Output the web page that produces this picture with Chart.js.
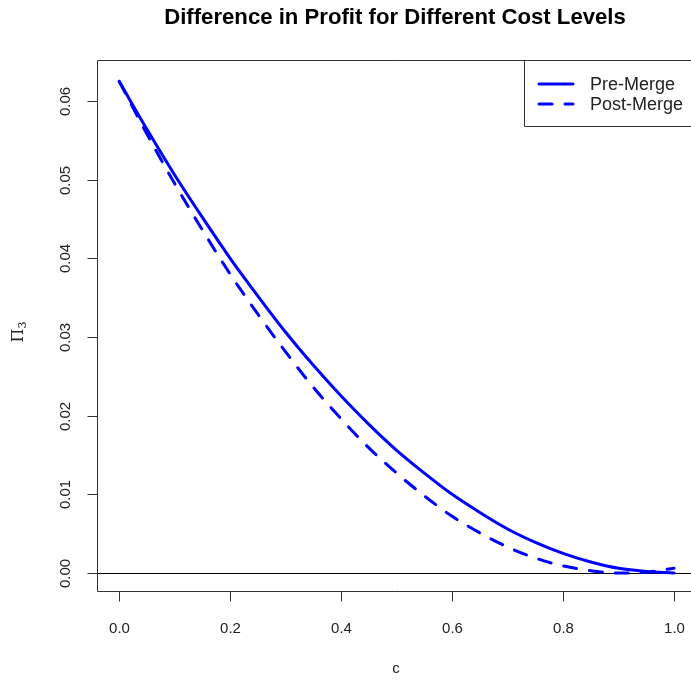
<!DOCTYPE html>
<html>
<head>
<meta charset="utf-8">
<script src="https://cdn.jsdelivr.net/npm/chart.js@4.4.1/dist/chart.umd.min.js"></script>
<style>
html, body { margin: 0; padding: 0; background: #fff; overflow: hidden; }
canvas { display: block; }
</style>
</head>
<body>
<canvas id="profitChart" width="691" height="682"></canvas>
<script>
// valores
const costLevels = [0, 0.05, 0.1, 0.15, 0.2, 0.25, 0.3, 0.35, 0.4, 0.45, 0.5,
                    0.55, 0.6, 0.65, 0.7, 0.75, 0.8, 0.85, 0.9, 0.95, 1.0];
const preMerge  = [0.0625, 0.0564, 0.0506, 0.0452, 0.0400, 0.0352, 0.0306, 0.0264, 0.0225, 0.0189, 0.0156,
                   0.0127, 0.0100, 0.0077, 0.0056, 0.0039, 0.0025, 0.0014, 0.0006, 0.0002, 0.0000];
const postMerge = [0.0625, 0.0558, 0.0495, 0.0436, 0.0380, 0.0329, 0.0281, 0.0236, 0.0196, 0.0159, 0.0127,
                   0.0098, 0.0072, 0.0051, 0.0033, 0.0019, 0.0009, 0.0003, 0.0000, 0.0001, 0.0006];
const seriesNames = ['Pre-Merge', 'Post-Merge'];
const xTicks = [0, 0.2, 0.4, 0.6, 0.8, 1.0];
const yTicks = [0, 0.01, 0.02, 0.03, 0.04, 0.05, 0.06];

const BLUE = '#0000ff';
const DASH = [13, 13];

function toPoints(values) {
    return costLevels.map((c, i) => ({ x: c, y: values[i] }));
}

// ejes y marco al estilo de R
const rFrame = {
    id: 'rFrame',
    beforeDatasetsDraw(chart) {
        const { ctx, chartArea: a, scales: { y } } = chart;
        const y0 = Math.round(y.getPixelForValue(0)) + 0.5;
        ctx.save();
        ctx.strokeStyle = '#000';
        ctx.lineWidth = 1;
        ctx.beginPath();
        ctx.moveTo(a.left, y0);
        ctx.lineTo(a.right, y0);
        ctx.stroke();
        ctx.restore();
    },
    afterDraw(chart) {
        const { ctx, chartArea: a, scales: { x, y } } = chart;
        ctx.save();
        ctx.strokeStyle = '#333';
        ctx.lineWidth = 1;

        // marco
        const L = a.left + 0.5, T = a.top + 0.5, B = a.bottom - 0.5;
        ctx.beginPath();
        ctx.moveTo(a.right + 5, T);
        ctx.lineTo(L, T);
        ctx.lineTo(L, B);
        ctx.lineTo(a.right + 5, B);
        ctx.stroke();

        // eje x
        ctx.fillStyle = '#222';
        ctx.font = '15px "Liberation Sans", Arial, sans-serif';
        ctx.textAlign = 'center';
        ctx.textBaseline = 'middle';
        xTicks.forEach(v => {
            const px = Math.round(x.getPixelForValue(v)) + 0.5;
            ctx.beginPath();
            ctx.moveTo(px, B);
            ctx.lineTo(px, B + 10);
            ctx.stroke();
            ctx.fillText(v.toFixed(1), px, 629);
        });

        // eje y
        yTicks.forEach(v => {
            const py = Math.round(y.getPixelForValue(v)) + 0.5;
            ctx.beginPath();
            ctx.moveTo(L, py);
            ctx.lineTo(L - 10, py);
            ctx.stroke();
            ctx.save();
            ctx.translate(66, py);
            ctx.rotate(-Math.PI / 2);
            ctx.fillText(v.toFixed(2), 0, 0);
            ctx.restore();
        });

        // titulo
        const title = 'Difference in Profit for Different Cost Levels';
        ctx.font = 'bold 17px "Liberation Sans", Arial, sans-serif';
        const tw = ctx.measureText(title).width;
        const size = 17 * 462 / tw;
        ctx.font = 'bold ' + size.toFixed(2) + 'px "Liberation Sans", Arial, sans-serif';
        ctx.fillStyle = '#000';
        ctx.fillText(title, 395, 18);

        // titulo eje x
        ctx.font = '15px "Liberation Sans", Arial, sans-serif';
        ctx.fillStyle = '#222';
        ctx.fillText('c', 396, 669);

        // titulo eje y (Pi sub 3)
        ctx.save();
        ctx.translate(23, 332);
        ctx.rotate(-Math.PI / 2);
        ctx.textAlign = 'left';
        ctx.textBaseline = 'alphabetic';
        ctx.font = '16px "DejaVu Serif", "Liberation Serif", serif';
        const w1 = ctx.measureText('Π').width;
        ctx.font = '11px "DejaVu Serif", "Liberation Serif", serif';
        const w2 = ctx.measureText('3').width;
        ctx.font = '16px "DejaVu Serif", "Liberation Serif", serif';
        ctx.fillText('Π', -(w1 + w2) / 2, 0);
        ctx.font = '11px "DejaVu Serif", "Liberation Serif", serif';
        ctx.fillText('3', -(w1 + w2) / 2 + w1, 3);
        ctx.restore();

        // leyenda
        ctx.strokeStyle = '#333';
        ctx.beginPath();
        ctx.moveTo(a.right + 5, 60.5);
        ctx.lineTo(524.5, 60.5);
        ctx.lineTo(524.5, 126.5);
        ctx.lineTo(a.right + 5, 126.5);
        ctx.stroke();
        const rows = [84, 104];
        ctx.lineWidth = 3;
        ctx.strokeStyle = BLUE;
        ctx.lineCap = 'round';
        rows.forEach((ry, i) => {
            ctx.setLineDash(i === 0 ? [] : DASH);
            ctx.beginPath();
            ctx.moveTo(539, ry);
            ctx.lineTo(573, ry);
            ctx.stroke();
        });
        ctx.setLineDash([]);
        ctx.font = '18px "Liberation Sans", Arial, sans-serif';
        ctx.fillStyle = '#222';
        ctx.textAlign = 'left';
        ctx.textBaseline = 'middle';
        rows.forEach((ry, i) => ctx.fillText(seriesNames[i], 590, ry + 1));
        ctx.restore();
    }
};

window.addEventListener('load', function() {
    const ctx = document.getElementById('profitChart').getContext('2d');
    new Chart(ctx, {
        type: 'line',
        data: {
            datasets: [
                {
                    label: seriesNames[0],
                    data: toPoints(preMerge),
                    borderColor: BLUE,
                    borderWidth: 3,
                    pointRadius: 0,
                    cubicInterpolationMode: 'monotone',
                    borderCapStyle: 'round',
                    fill: false
                },
                {
                    label: seriesNames[1],
                    data: toPoints(postMerge),
                    borderColor: BLUE,
                    borderWidth: 3,
                    borderDash: DASH,
                    pointRadius: 0,
                    cubicInterpolationMode: 'monotone',
                    borderCapStyle: 'round',
                    fill: false
                }
            ]
        },
        options: {
            responsive: false,
            animation: false,
            devicePixelRatio: 1,
            layout: { padding: { left: 97, top: 60, right: 0, bottom: 90 } },
            plugins: {
                legend: { display: false },
                tooltip: { enabled: false }
            },
            scales: {
                x: { type: 'linear', min: -0.04, max: 1.0306, display: false },
                y: { type: 'linear', min: -0.002415, max: 0.065212, display: false }
            }
        },
        plugins: [rFrame]
    });
});
</script>
</body>
</html>
